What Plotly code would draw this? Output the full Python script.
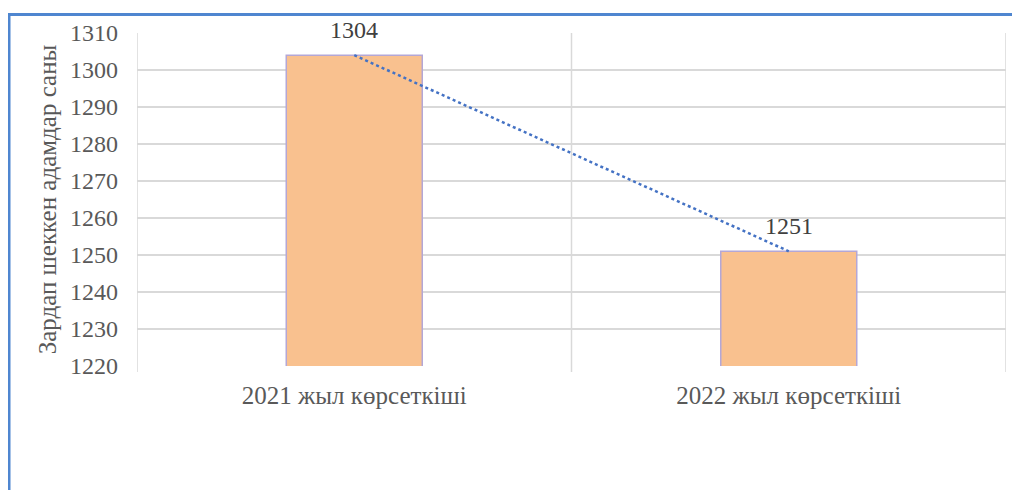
import plotly.graph_objects as go

categories = ["2021 жыл көрсеткіші", "2022 жыл көрсеткіші"]
values = [1304, 1251]
y_ticks = [1220, 1230, 1240, 1250, 1260, 1270, 1280, 1290, 1300, 1310]
y_title = "Зардап шеккен адамдар саны"

FONT = "'Times New Roman', 'Liberation Serif', 'DejaVu Serif', serif"
FS_NUM = 24
FS_TXT = 25
x_idx = list(range(len(categories)))
bounds = [-0.5, 0.5, 1.5]

W, H = 1012, 482
L, R, T, B = 129, 14, 25, 124
PW, PH = W - L - R, H - T - B

fig = go.Figure()
fig.add_trace(go.Bar(
    x=x_idx, y=values,
    marker=dict(color="#F9C18F", line=dict(color="#B4A7D6", width=1.5)),
    showlegend=False, hoverinfo="skip",
))
fig.add_trace(go.Scatter(
    x=x_idx, y=values, mode="lines",
    line=dict(color="#4472C4", width=2.5, dash="dot"),
    showlegend=False, hoverinfo="skip",
))

for xi, v in zip(x_idx, values):
    fig.add_annotation(x=xi, y=v, text=str(v), showarrow=False, yshift=25,
                       font=dict(family=FONT, size=FS_NUM, color="#404040"))

shapes = []
for b in bounds:
    shapes.append(dict(type="line", xref="x", yref="paper", x0=b, x1=b, y0=-6/PH, y1=1,
                       line=dict(color="#D9D9D9", width=1.5), layer="below"))
ytop = (H - B - 6.5) / PH
shapes.append(dict(type="line", xref="paper", yref="paper", x0=-L/PW, x1=(W - L) / PW,
                   y0=ytop, y1=ytop, line=dict(color="#4F86D0", width=3)))
shapes.append(dict(type="line", xref="paper", yref="paper", x0=-L/PW + 1/PW, x1=-L/PW + 1/PW,
                   y0=ytop, y1=-B/PH, line=dict(color="#4F86D0", width=3)))

fig.update_layout(
    width=W, height=H,
    margin=dict(l=L, r=R, t=T, b=B),
    paper_bgcolor="white", plot_bgcolor="white",
    bargap=0.687,
    xaxis=dict(range=[-0.5, 1.5], tickvals=x_idx, ticktext=categories, showgrid=False,
               zeroline=False, showline=False, ticks="", ticklabelstandoff=12,
               tickfont=dict(family=FONT, size=FS_TXT, color="#595959")),
    yaxis=dict(range=[1220, 1310], tickvals=y_ticks, showgrid=True, gridcolor="#D9D9D9",
               gridwidth=1.5, zeroline=False, showline=False, ticks="",
               ticklabelstandoff=18,
               tickfont=dict(family=FONT, size=FS_NUM, color="#595959"),
               title=dict(text=y_title, standoff=6,
                          font=dict(family=FONT, size=FS_TXT, color="#595959"))),
    shapes=shapes,
)

fig.write_html("out.html")
